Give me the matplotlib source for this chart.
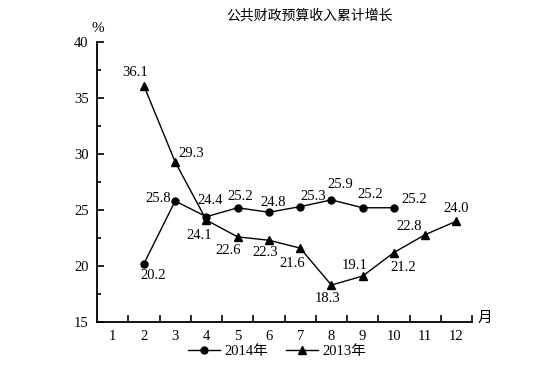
import matplotlib.pyplot as plt
from matplotlib.ticker import FixedLocator, MultipleLocator

plt.rcParams['font.family'] = ['Liberation Serif', 'Noto Sans CJK SC']

months_2014 = [2, 3, 4, 5, 6, 7, 8, 9, 10]
vals_2014 = [20.2, 25.8, 24.4, 25.2, 24.8, 25.3, 25.9, 25.2, 25.2]
months_2013 = [2, 3, 4, 5, 6, 7, 8, 9, 10, 11, 12]
vals_2013 = [36.1, 29.3, 24.1, 22.6, 22.3, 21.6, 18.3, 19.1, 21.2, 22.8, 24.0]
month_labels = [str(m) for m in range(1, 13)]

# label offsets in pixels (dx, dy)
off_2014 = [(9, -12), (-17, 3), (4, 16), (3, 11), (4, 10), (13, 10), (9, 15), (8, 13), (20, 8)]
off_2013 = [(-9, 13), (16, 8), (-7, -15), (-9, -14), (-4, -12), (-8, -15), (-4, -13),
            (-8, 11), (9, -15), (-16, 8), (0, 13)]

fig = plt.figure(figsize=(5.53, 3.91), dpi=100)
ax = fig.add_axes([97/553, 69/391, 375/553, 280/391])

ax.plot(months_2014, vals_2014, color='black', lw=1.0, marker='o', ms=5, label='2014年')
ax.plot(months_2013, vals_2013, color='black', lw=1.0, marker='^', ms=6, label='2013年')

for m, v, (dx, dy) in zip(months_2014, vals_2014, off_2014):
    ax.annotate(f'{v:.1f}', (m, v), xytext=(dx*0.72, dy*0.72), textcoords='offset points',
                ha='center', va='center', fontsize=10.5)
for m, v, (dx, dy) in zip(months_2013, vals_2013, off_2013):
    ax.annotate(f'{v:.1f}', (m, v), xytext=(dx*0.72, dy*0.72), textcoords='offset points',
                ha='center', va='center', fontsize=10.5)

ax.set_xlim(0.5, 12.5)
ax.set_ylim(15, 40)
for s in ['top', 'right']:
    ax.spines[s].set_visible(False)
for s in ['left', 'bottom']:
    ax.spines[s].set_linewidth(1.3)

ax.xaxis.set_major_locator(FixedLocator(range(1, 13)))
ax.set_xticklabels(month_labels)
ax.xaxis.set_minor_locator(FixedLocator([m + 0.5 for m in range(1, 13)]))
ax.tick_params(axis='x', which='major', length=0, pad=6, labelsize=10.5)
ax.tick_params(axis='x', which='minor', direction='in', length=5, width=1.2)
ax.yaxis.set_major_locator(MultipleLocator(5))
ax.yaxis.set_minor_locator(MultipleLocator(2.5))
ax.tick_params(axis='y', which='major', direction='in', length=5, width=1.2, pad=6, labelsize=10.5)
ax.tick_params(axis='y', which='minor', direction='in', length=3, width=1.2)

fig.text(310/553, 1 - 16/391, '公共财政预算收入累计增长', ha='center', va='center', fontsize=10)
fig.text(98/553, 1 - 28/391, '%', ha='center', va='center', fontsize=11)
fig.text(485/553, 1 - 318/391, '月', ha='center', va='center', fontsize=10.5)

fig.legend(loc='center', bbox_to_anchor=(277/553, 1 - 351/391), ncol=2, frameon=False,
           fontsize=10.5, handlelength=2.2, columnspacing=1.2, handletextpad=0.3)

fig.savefig('out.png', dpi=100)
